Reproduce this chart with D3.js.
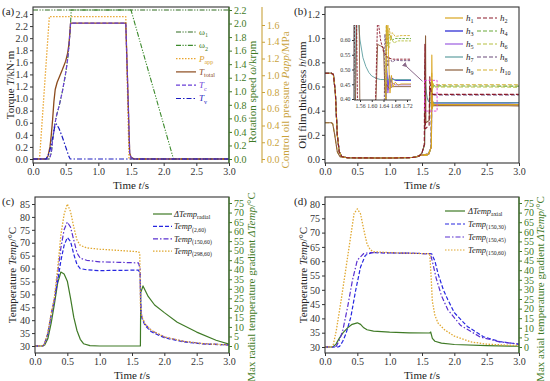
<!DOCTYPE html>
<html><head><meta charset="utf-8">
<script src="https://cdn.jsdelivr.net/npm/d3@7"></script>
<style>body{margin:0;background:#fff}svg{display:block}text{font-family:"Liberation Serif","Times New Roman",serif}</style>
</head><body><svg id="c" width="550" height="381"></svg>
<script>
// ---------------- DATA ----------------
const timeTicks = [0, 0.5, 1, 1.5, 2, 2.5, 3];
const torqueTicks = [0, 0.2, 0.4, 0.6, 0.8, 1.0, 1.2, 1.4, 1.6, 1.8, 2.0, 2.2, 2.4];
const speedTicks = [0, 0.2, 0.4, 0.6, 0.8, 1.0, 1.2, 1.4, 1.6, 1.8, 2.0, 2.2];
const pressureTicks = [0, 0.2, 0.4, 0.6, 0.8, 1.0, 1.2, 1.4, 1.6];
const filmTicks = [0, 0.2, 0.4, 0.6, 0.8, 1.0, 1.2];
const insetTimeTicks = [1.56, 1.60, 1.64, 1.68, 1.72];
const insetFilmTicks = [0.40, 0.45, 0.50, 0.55, 0.60];
const tempTicksC = [30, 35, 40, 45, 50, 55, 60, 65, 70, 75, 80, 85];
const tempTicksD = [30, 35, 40, 45, 50, 55, 60, 65, 70, 75, 80];
const gradTicks = [0, 5, 10, 15, 20, 25, 30, 35, 40, 45, 50, 55, 60, 65, 70, 75];

// (a) speeds [t, krpm], pressure [t, MPa], torques [t, kN·m]
const omega1 = [[0, 2.2], [3, 2.2]];
const omega2 = [[0, 0], [0.25, 0], [0.28, 0.09], [0.3, 0.27], [0.33, 0.49], [0.36, 0.64], [0.4, 0.78], [0.45, 1.0], [0.5, 1.26], [0.53, 1.47], [0.55, 1.66], [0.565, 1.85], [0.575, 2.0], [0.585, 2.2], [1.5, 2.2], [2.15, 0], [3, 0]];
const pApp = [[0, 0], [0.1, 0], [0.25, 1.7], [1.42, 1.7], [1.47, 0], [3, 0]];
const tTotal = [[0, 0], [0.2, 0], [0.23, 0.05], [0.26, 0.2], [0.28, 0.4], [0.3, 0.65], [0.32, 0.95], [0.34, 1.15], [0.37, 1.27], [0.4, 1.35], [0.45, 1.48], [0.5, 1.62], [0.53, 1.75], [0.55, 1.9], [0.565, 2.1], [0.575, 2.25], [1.42, 2.25], [1.45, 1.2], [1.48, 0.1], [1.5, 0.03], [1.55, 0], [3, 0]];
const tC = [[0, 0], [0.25, 0], [0.28, 0.1], [0.3, 0.3], [0.33, 0.55], [0.36, 0.72], [0.4, 0.88], [0.45, 1.12], [0.5, 1.42], [0.53, 1.65], [0.55, 1.86], [0.565, 2.08], [0.575, 2.25], [1.42, 2.25], [1.45, 1.2], [1.48, 0.1], [1.5, 0.02], [1.55, 0], [3, 0]];
const tV = [[0, 0], [0.2, 0], [0.25, 0.1], [0.3, 0.35], [0.33, 0.52], [0.36, 0.58], [0.4, 0.5], [0.45, 0.36], [0.5, 0.2], [0.55, 0.04], [0.57, 0], [3, 0]];

// (b) oil film thickness [t, mm]
const filmStartHigh = [[0, 0.71], [0.1, 0.71], [0.13, 0.7], [0.16, 0.55], [0.19, 0.2], [0.22, 0.06], [0.26, 0.02], [0.35, 0.01], [1.0, 0.008], [1.35, 0.012], [1.42, 0.018], [1.47, 0.03]];
const filmStartLow = [[0, 0.3], [0.1, 0.3], [0.12, 0.29], [0.15, 0.2], [0.19, 0.06], [0.23, 0.02], [0.35, 0.01], [1.0, 0.008], [1.35, 0.012], [1.42, 0.018], [1.47, 0.03]];
const h1 = filmStartHigh.concat([[1.6, 0.04], [1.645, 0.1], [1.652, 0.86], [1.657, 0.55], [1.662, 0.42], [1.667, 0.48], [1.672, 0.44], [1.68, 0.457], [1.69, 0.447], [1.7, 0.451], [3, 0.45]]);
const h2 = filmStartHigh.concat([[1.5, 0.05], [1.535, 0.12], [1.545, 0.95], [1.553, 0.25], [1.61, 0.28], [1.62, 0.68], [1.63, 0.6], [1.64, 0.56], [1.655, 0.54], [1.67, 0.535], [3, 0.535]]);
const h3 = filmStartHigh.concat([[1.6, 0.04], [1.645, 0.1], [1.65, 0.52], [1.655, 0.43], [1.66, 0.48], [1.665, 0.455], [1.67, 0.47], [1.68, 0.463], [3, 0.465]]);
const h4 = filmStartHigh.concat([[1.6, 0.04], [1.645, 0.1], [1.65, 0.66], [1.655, 0.58], [1.66, 0.62], [1.67, 0.6], [1.68, 0.605], [3, 0.603]]);
const h5 = filmStartHigh.concat([[1.6, 0.04], [1.645, 0.1], [1.65, 0.5], [1.655, 0.42], [1.66, 0.47], [1.665, 0.44], [1.67, 0.455], [1.68, 0.448], [3, 0.45]]);
const h6 = filmStartHigh.concat([[1.6, 0.04], [1.645, 0.1], [1.652, 0.64], [1.658, 0.57], [1.665, 0.61], [1.675, 0.59], [1.69, 0.597], [3, 0.595]]);
const h7 = filmStartHigh.concat([[1.5, 0.05], [1.54, 0.12], [1.548, 0.8], [1.553, 0.68], [1.56, 0.6], [1.57, 0.54], [1.58, 0.51], [1.59, 0.49], [1.6, 0.478], [1.615, 0.47], [1.63, 0.466], [3, 0.465]]);
const h8 = filmStartHigh.concat([[1.6, 0.03], [1.64, 0.1], [1.645, 0.62], [1.65, 0.55], [1.655, 0.51], [1.66, 0.54], [1.67, 0.525], [1.68, 0.532], [1.7, 0.53], [3, 0.53]]);
const h9 = filmStartLow.concat([[1.5, 0.05], [1.54, 0.12], [1.555, 1.02], [1.56, 0.3], [1.612, 0.32], [1.62, 0.585], [1.64, 0.575], [1.645, 0.42], [1.65, 0.45], [1.66, 0.435], [1.67, 0.442], [3, 0.44]]);
const h10 = filmStartLow.concat([[1.6, 0.03], [1.645, 0.1], [1.65, 0.72], [1.655, 0.6], [1.66, 0.64], [1.665, 0.6], [1.67, 0.625], [1.68, 0.612], [1.7, 0.615], [3, 0.615]]);

// (c) radial temperatures [t, °C]
const dTempRadial = [[0, 0], [0.12, 0], [0.15, 0.5], [0.2, 4], [0.25, 12], [0.3, 22], [0.35, 33], [0.4, 38.8], [0.45, 37.8], [0.5, 34], [0.55, 25], [0.6, 15], [0.65, 8], [0.7, 3.5], [0.75, 1.2], [0.85, 0.2], [1, 0], [1.63, 0], [1.635, 28], [1.67, 31.5], [1.75, 26], [1.85, 21.5], [2.0, 17.5], [2.2, 12.5], [2.5, 7.3], [2.8, 3], [3.0, 1]];
const temp2_60 = [[0, 30], [0.12, 30], [0.15, 31], [0.2, 35], [0.25, 42], [0.3, 48], [0.35, 55], [0.4, 63], [0.45, 69], [0.5, 72], [0.55, 70.5], [0.6, 65.5], [0.65, 61.5], [0.7, 60], [0.8, 59.5], [1.0, 59.2], [1.3, 59.3], [1.6, 59.4], [1.625, 58], [1.635, 45], [1.65, 41], [1.7, 38], [1.8, 35.5], [2.0, 33.2], [2.3, 31.6], [2.6, 30.8], [3, 30.4]];
const temp150_60r = [[0, 30], [0.12, 30], [0.15, 31], [0.2, 35], [0.25, 42], [0.3, 48], [0.35, 58], [0.4, 68], [0.45, 75], [0.5, 78], [0.55, 76], [0.6, 71], [0.65, 66], [0.7, 64], [0.8, 63.2], [1.0, 62.6], [1.3, 62.4], [1.6, 62.2], [1.625, 60], [1.635, 46], [1.65, 41.5], [1.7, 38.5], [1.8, 36], [2.0, 33.5], [2.3, 31.8], [2.6, 30.9], [3, 30.4]];
const temp298_60 = [[0, 30], [0.12, 30], [0.15, 31], [0.2, 35.5], [0.25, 42.5], [0.3, 49], [0.35, 60], [0.4, 73], [0.45, 81], [0.5, 85], [0.55, 82], [0.6, 76], [0.65, 71], [0.7, 69], [0.8, 68], [1.0, 67.5], [1.3, 67], [1.6, 66.5], [1.62, 66], [1.63, 46], [1.645, 42], [1.7, 38.5], [1.8, 36], [2.0, 33.5], [2.3, 31.8], [2.6, 30.9], [3, 30.4]];

// (d) axial temperatures [t, °C]
const dTempAxial = [[0, 0], [0.12, 0], [0.17, 1.5], [0.22, 4.5], [0.28, 7.5], [0.35, 10], [0.42, 11.8], [0.5, 12.6], [0.55, 11.8], [0.6, 10], [0.65, 9], [0.75, 8.3], [1.0, 7.7], [1.3, 7.4], [1.62, 7.3], [1.635, 7.8], [1.66, 4.5], [1.7, 3], [1.8, 2], [2.0, 1.3], [2.5, 0.7], [3.0, 0.4]];
const temp150_30 = [[0, 30], [0.2, 30], [0.225, 30.2], [0.275, 32], [0.325, 34.7], [0.4, 40.5], [0.475, 49.9], [0.55, 58], [0.625, 62.1], [0.725, 63], [1.0, 62.9], [1.3, 62.8], [1.65, 62.6], [1.7, 60], [1.75, 55.5], [1.83, 50], [1.9, 46.5], [2.0, 42], [2.2, 37.2], [2.45, 33.6], [2.7, 31.9], [3, 31]];
const temp150_45 = [[0, 30], [0.15, 30], [0.175, 30.3], [0.225, 32.5], [0.275, 35.8], [0.35, 44], [0.425, 53.4], [0.5, 60.4], [0.6, 62.7], [0.7, 63], [1.0, 62.9], [1.3, 62.8], [1.63, 62.6], [1.67, 59], [1.72, 54], [1.8, 48], [1.9, 43], [2.1, 37.5], [2.4, 33.5], [2.7, 31.8], [3, 31]];
const temp150_60a = [[0, 30], [0.1, 30], [0.13, 31], [0.175, 35.8], [0.25, 46.4], [0.35, 61.5], [0.45, 76.7], [0.5, 78.3], [0.55, 76.5], [0.6, 71], [0.65, 66], [0.7, 64], [0.75, 63.3], [1.0, 63], [1.3, 62.8], [1.62, 62.6], [1.64, 55], [1.66, 46], [1.7, 41], [1.75, 38.3], [1.85, 36], [2.0, 33.8], [2.25, 31.8], [2.5, 31], [2.76, 30.7], [3, 30.5]];

// ---------------- DRAWING ----------------
const svg = d3.select("#c");
const FONT = '"Liberation Serif","Times New Roman",serif';
const DASH = "4,2", DASHDOT = "5,2,1.5,2", DDOT = "5,1.5,1.2,1.5,1.2,1.5", DOT = "1.5,1.5";
const GREEN = "#3f7a26", GOLD = "#c9a23c", AX = "#333";
let clipId = 0;

function rich(sel, parts, fs) {
  let shifted = 0;
  parts.forEach(p => {
    const ts = sel.append("tspan").text(p.t);
    if (p.i) ts.attr("font-style", "italic");
    if (p.sub) { ts.attr("font-size", fs * 0.68).attr("dy", fs * 0.28); shifted += fs * 0.28; }
    else if (shifted) { ts.attr("dy", -shifted); shifted = 0; }
  });
}
function styleAxis(g, color, fs) {
  g.attr("font-family", FONT).attr("font-size", fs);
  g.select(".domain").remove();
  g.selectAll(".tick line").attr("stroke", color);
  g.selectAll(".tick text").attr("fill", color);
}
function frame(g, x0, y0, x1, y1) {
  g.append("rect").attr("x", x0).attr("y", y0).attr("width", x1 - x0).attr("height", y1 - y0)
    .attr("fill", "none").attr("stroke", "#333").attr("stroke-width", 1.1);
}
function clip(x0, y0, x1, y1) {
  const id = "cl" + (clipId++);
  svg.append("clipPath").attr("id", id).append("rect").attr("x", x0).attr("y", y0).attr("width", x1 - x0).attr("height", y1 - y0);
  return "url(#" + id + ")";
}
function line(g, data, x, y, color, dash, w) {
  g.append("path").datum(data)
    .attr("d", d3.line().x(d => x(d[0])).y(d => y(d[1])))
    .attr("fill", "none").attr("stroke", color).attr("stroke-width", w || 1.2)
    .attr("stroke-dasharray", dash || null).attr("stroke-linejoin", "round");
}
function vlabel(x, y, parts, fs, color) {
  const t = svg.append("text").attr("transform", `translate(${x},${y}) rotate(-90)`)
    .attr("text-anchor", "middle").attr("dominant-baseline", "central")
    .attr("font-size", fs).attr("fill", color || "#222");
  rich(t, parts, fs);
}
function hlabel(x, y, parts, fs, color, anchor) {
  const t = svg.append("text").attr("x", x).attr("y", y).attr("text-anchor", anchor || "middle")
    .attr("font-size", fs).attr("fill", color || "#222");
  rich(t, parts, fs);
}
function legend(items, x0, x1, xl, y0, dy, fs) {
  items.forEach((it, i) => {
    const y = y0 + i * dy;
    svg.append("line").attr("x1", x0).attr("x2", x1).attr("y1", y).attr("y2", y)
      .attr("stroke", it.c).attr("stroke-width", 1.2).attr("stroke-dasharray", it.d || null);
    hlabel(xl, y + fs * 0.33, it.p, fs, it.tc || "#222", "start");
  });
}
const fmt1 = d3.format(".1f");
const TF = 10;

// ===== Panel (a) =====
{
  const x = d3.scaleLinear().domain([0, 3]).range([33, 229]);
  const y = d3.scaleLinear().domain([0, 2.4]).range([159, 14]);
  const yS = d3.scaleLinear().domain([0, 2.2]).range([159, 10]);
  const yP = d3.scaleLinear().domain([0, 1.6]).range([159, 25]);
  const g = svg.append("g");
  const pg = g.append("g").attr("clip-path", clip(33, 7, 229, 163));
  line(pg, omega1, x, yS, "#2f6b1f", DDOT, 1.1);
  line(pg, omega2, x, yS, "#3c8a2c", DDOT, 1.1);
  line(pg, pApp, x, yP, "#eaa52e", DOT, 1.3);
  line(pg, tTotal, x, y, "#8b4a1c", null, 1.3);
  line(pg, tC, x, y, "#6a3fd8", DASH, 1.2);
  line(pg, tV, x, y, "#1c1cc0", DASHDOT, 1.2);
  frame(g, 33, 7, 229, 163);
  styleAxis(g.append("g").attr("transform", "translate(33,0)")
    .call(d3.axisLeft(y).tickValues(torqueTicks).tickFormat(fmt1).tickSize(3).tickPadding(2)), AX, TF);
  styleAxis(g.append("g").attr("transform", "translate(0,163)")
    .call(d3.axisBottom(x).tickValues(timeTicks).tickFormat(fmt1).tickSize(3).tickPadding(2)), AX, TF);
  g.append("line").attr("x1", 229).attr("x2", 229).attr("y1", 7).attr("y2", 163).attr("stroke", GREEN).attr("stroke-width", 1.1);
  styleAxis(g.append("g").attr("transform", "translate(229,0)")
    .call(d3.axisRight(yS).tickValues(speedTicks).tickFormat(fmt1).tickSize(3).tickPadding(2)), GREEN, TF);
  g.append("line").attr("x1", 262).attr("x2", 262).attr("y1", 7).attr("y2", 163).attr("stroke", GOLD).attr("stroke-width", 1.1);
  styleAxis(g.append("g").attr("transform", "translate(262,0)")
    .call(d3.axisRight(yP).tickValues(pressureTicks).tickFormat(fmt1).tickSize(3).tickPadding(2)), GOLD, TF);
  vlabel(10, 85, [{ t: "Torque " }, { t: "T", i: true }, { t: "/kN·m" }], 11);
  vlabel(252, 92, [{ t: "Rotation speed " }, { t: "ω", i: true }, { t: "/krpm" }], 11, GREEN);
  vlabel(285, 100, [{ t: "Control oil pressure " }, { t: "Papp", i: true }, { t: "/MPa" }], 11, GOLD);
  hlabel(131, 189, [{ t: "Time " }, { t: "t", i: true }, { t: "/s" }], 11);
  hlabel(2, 15, [{ t: "(a)" }], 11, "#222", "start");
  legend([
    { c: "#2f6b1f", d: DDOT, p: [{ t: "ω" }, { t: "1", sub: true }], tc: GREEN },
    { c: "#3c8a2c", d: DDOT, p: [{ t: "ω" }, { t: "2", sub: true }], tc: GREEN },
    { c: "#eaa52e", d: DOT, p: [{ t: "P", i: true }, { t: "app", sub: true }], tc: "#d9a030" },
    { c: "#8b4a1c", p: [{ t: "T", i: true }, { t: "total", sub: true }], tc: "#8b4a1c" },
    { c: "#6a3fd8", d: DASH, p: [{ t: "T", i: true }, { t: "c", sub: true }], tc: "#6a3fd8" },
    { c: "#1c1cc0", d: DASHDOT, p: [{ t: "T", i: true }, { t: "v", sub: true }], tc: "#1c1cc0" }
  ], 176, 196, 199, 32, 13.3, 9);
}

// ===== Panel (b) =====
{
  const x = d3.scaleLinear().domain([0, 3]).range([325, 519]);
  const y = d3.scaleLinear().domain([0, 1.2]).range([159, 14]);
  const S = {
    h1: { d: h1, c: "#d9a520" }, h2: { d: h2, c: "#8b1a2b", s: DASH }, h3: { d: h3, c: "#1f1fd0" }, h4: { d: h4, c: "#6aaa3a", s: DASH },
    h5: { d: h5, c: "#9a5ce0" }, h6: { d: h6, c: "#b5c040", s: DASH }, h7: { d: h7, c: "#5e9ea0" }, h8: { d: h8, c: "#6b4a7a", s: DASH },
    h9: { d: h9, c: "#8b5e3c" }, h10: { d: h10, c: "#d4b030", s: DASH }
  };
  const order = ["h3", "h4", "h5", "h6", "h7", "h8", "h10", "h9", "h1", "h2"];
  const g = svg.append("g");
  const pg = g.append("g").attr("clip-path", clip(325, 7, 519, 163));
  order.forEach(k => line(pg, S[k].d, x, y, S[k].c, S[k].s, 1.1));
  frame(g, 325, 7, 519, 163);
  styleAxis(g.append("g").attr("transform", "translate(325,0)")
    .call(d3.axisLeft(y).tickValues(filmTicks).tickFormat(fmt1).tickSize(3).tickPadding(2)), AX, TF);
  styleAxis(g.append("g").attr("transform", "translate(0,163)")
    .call(d3.axisBottom(x).tickValues(timeTicks).tickFormat(fmt1).tickSize(3).tickPadding(2)), AX, TF);
  vlabel(302, 95, [{ t: "Oil film thickness " }, { t: "h", i: true }, { t: "/mm" }], 11);
  hlabel(422, 189, [{ t: "Time " }, { t: "t", i: true }, { t: "/s" }], 11);
  hlabel(294, 15, [{ t: "(b)" }], 11, "#222", "start");

  // inset
  const xi = d3.scaleLinear().domain([1.56, 1.72]).range([360, 407]);
  const yi = d3.scaleLinear().domain([0.40, 0.60]).range([99, 40]);
  const ix0 = 354, ix1 = 411, iy0 = 25, iy1 = 100;
  const ig = g.append("g").attr("clip-path", clip(ix0, iy0, ix1, iy1));
  order.forEach(k => line(ig, S[k].d, xi, yi, S[k].c, S[k].s ? "2.5,1.2" : null, 0.9));
  g.append("line").attr("x1", ix0).attr("x2", ix0).attr("y1", iy0).attr("y2", iy1).attr("stroke", "#333").attr("stroke-width", 0.9);
  g.append("line").attr("x1", ix0).attr("x2", ix1).attr("y1", iy1).attr("y2", iy1).attr("stroke", "#333").attr("stroke-width", 0.9);
  styleAxis(g.append("g").attr("transform", `translate(${ix0},0)`)
    .call(d3.axisLeft(yi).tickValues(insetFilmTicks).tickFormat(d3.format(".2f")).tickSize(2).tickPadding(1.5)), AX, 5.8);
  styleAxis(g.append("g").attr("transform", `translate(0,${iy1})`)
    .call(d3.axisBottom(xi).tickValues(insetTimeTicks).tickFormat(d3.format(".2f")).tickSize(2).tickPadding(1.5)), AX, 5.8);
  // zoom box in main coordinates
  const bx0 = x(xi.invert(ix0)), bx1 = x(xi.invert(ix1)), by0 = y(yi.invert(iy0)), by1 = y(yi.invert(iy1));
  g.append("rect").attr("x", bx0).attr("y", by0).attr("width", bx1 - bx0).attr("height", by1 - by0)
    .attr("fill", "none").attr("stroke", "#e040d8").attr("stroke-width", 0.9).attr("stroke-dasharray", "2.5,1.5");
  svg.append("defs").append("marker").attr("id", "arr").attr("viewBox", "0 0 10 10").attr("refX", 1).attr("refY", 5)
    .attr("markerWidth", 5).attr("markerHeight", 5).attr("orient", "auto-start-reverse")
    .append("path").attr("d", "M10,0 L0,5 L10,10 z").attr("fill", "#8a6a8a");
  g.append("line").attr("x1", 407).attr("y1", 67).attr("x2", bx0 - 2).attr("y2", by0 + 1)
    .attr("stroke", "#8a6a8a").attr("stroke-width", 1).attr("marker-start", "url(#arr)");
  const L = ["h1", "h2", "h3", "h4", "h5", "h6", "h7", "h8", "h9", "h10"];
  const item = k => ({ c: S[k].c, d: S[k].s, p: [{ t: "h", i: true }, { t: k.slice(1), sub: true }] });
  legend(L.filter((d, i) => i % 2 === 0).map(item), 445, 463, 466, 18, 13, 9);
  legend(L.filter((d, i) => i % 2 === 1).map(item), 477, 497, 500, 18, 13, 9);
}

// ===== Panel (c) =====
{
  const x = d3.scaleLinear().domain([0, 3]).range([35, 229]);
  const yL = d3.scaleLinear().domain([30, 85]).range([346, 204]);
  const yR = d3.scaleLinear().domain([0, 75]).range([346, 203]);
  const g = svg.append("g");
  const pg = g.append("g").attr("clip-path", clip(35, 197, 229, 353));
  line(pg, dTempRadial, x, yR, "#3f7a26", null, 1.2);
  line(pg, temp2_60, x, yL, "#2626e0", DASH, 1.2);
  line(pg, temp150_60r, x, yL, "#5a30d0", DASHDOT, 1.2);
  line(pg, temp298_60, x, yL, "#e0a830", DOT, 1.3);
  frame(g, 35, 197, 229, 353);
  styleAxis(g.append("g").attr("transform", "translate(35,0)")
    .call(d3.axisLeft(yL).tickValues(tempTicksC).tickFormat(d3.format("d")).tickSize(3).tickPadding(2)), AX, TF);
  styleAxis(g.append("g").attr("transform", "translate(0,353)")
    .call(d3.axisBottom(x).tickValues(timeTicks).tickFormat(fmt1).tickSize(3).tickPadding(2)), AX, TF);
  g.append("line").attr("x1", 229).attr("x2", 229).attr("y1", 197).attr("y2", 353).attr("stroke", GREEN).attr("stroke-width", 1.1);
  styleAxis(g.append("g").attr("transform", "translate(229,0)")
    .call(d3.axisRight(yR).tickValues(gradTicks).tickFormat(d3.format("d")).tickSize(3).tickPadding(2)), GREEN, TF);
  vlabel(12, 275, [{ t: "Temperature " }, { t: "Temp", i: true }, { t: "/°C" }], 11);
  vlabel(251, 287, [{ t: "Max radial temperature gradient " }, { t: "ΔTemp", i: true }, { t: "/°C" }], 11, GREEN);
  hlabel(132, 379, [{ t: "Time " }, { t: "t", i: true }, { t: "/s" }], 11);
  hlabel(2, 205, [{ t: "(c)" }], 11, "#222", "start");
  legend([
    { c: "#3f7a26", p: [{ t: "ΔTemp", i: true }, { t: "radial", sub: true }] },
    { c: "#2626e0", d: DASH, p: [{ t: "Temp", i: true }, { t: "(2,60)", sub: true }] },
    { c: "#5a30d0", d: DASHDOT, p: [{ t: "Temp", i: true }, { t: "(150,60)", sub: true }] },
    { c: "#e0a830", d: DOT, p: [{ t: "Temp", i: true }, { t: "(298,60)", sub: true }] }
  ], 153, 172, 174, 214, 12.4, 8.5);
}

// ===== Panel (d) =====
{
  const x = d3.scaleLinear().domain([0, 3]).range([325, 519]);
  const yL = d3.scaleLinear().domain([30, 80]).range([347, 204]);
  const yR = d3.scaleLinear().domain([0, 75]).range([347, 203]);
  const g = svg.append("g");
  const pg = g.append("g").attr("clip-path", clip(325, 197, 519, 353));
  line(pg, dTempAxial, x, yR, "#3f7a26", null, 1.2);
  line(pg, temp150_30, x, yL, "#2626e0", DASH, 1.2);
  line(pg, temp150_45, x, yL, "#5a30d0", DASHDOT, 1.2);
  line(pg, temp150_60a, x, yL, "#e0a830", DOT, 1.3);
  frame(g, 325, 197, 519, 353);
  styleAxis(g.append("g").attr("transform", "translate(325,0)")
    .call(d3.axisLeft(yL).tickValues(tempTicksD).tickFormat(d3.format("d")).tickSize(3).tickPadding(2)), AX, TF);
  styleAxis(g.append("g").attr("transform", "translate(0,353)")
    .call(d3.axisBottom(x).tickValues(timeTicks).tickFormat(fmt1).tickSize(3).tickPadding(2)), AX, TF);
  g.append("line").attr("x1", 519).attr("x2", 519).attr("y1", 197).attr("y2", 353).attr("stroke", GREEN).attr("stroke-width", 1.1);
  styleAxis(g.append("g").attr("transform", "translate(519,0)")
    .call(d3.axisRight(yR).tickValues(gradTicks).tickFormat(d3.format("d")).tickSize(3).tickPadding(2)), GREEN, TF);
  vlabel(303, 275, [{ t: "Temperature " }, { t: "Temp", i: true }, { t: "/°C" }], 11);
  vlabel(540, 289, [{ t: "Max axial temperature gradient " }, { t: "ΔTemp", i: true }, { t: "/°C" }], 11, GREEN);
  hlabel(422, 379, [{ t: "Time " }, { t: "t", i: true }, { t: "/s" }], 11);
  hlabel(294, 205, [{ t: "(d)" }], 11, "#222", "start");
  legend([
    { c: "#3f7a26", p: [{ t: "ΔTemp", i: true }, { t: "axial", sub: true }] },
    { c: "#2626e0", d: DASH, p: [{ t: "Temp", i: true }, { t: "(150,30)", sub: true }] },
    { c: "#5a30d0", d: DASHDOT, p: [{ t: "Temp", i: true }, { t: "(150,45)", sub: true }] },
    { c: "#e0a830", d: DOT, p: [{ t: "Temp", i: true }, { t: "(150,60)", sub: true }] }
  ], 445, 465, 468, 211, 13, 8.5);
}
</script></body></html>
